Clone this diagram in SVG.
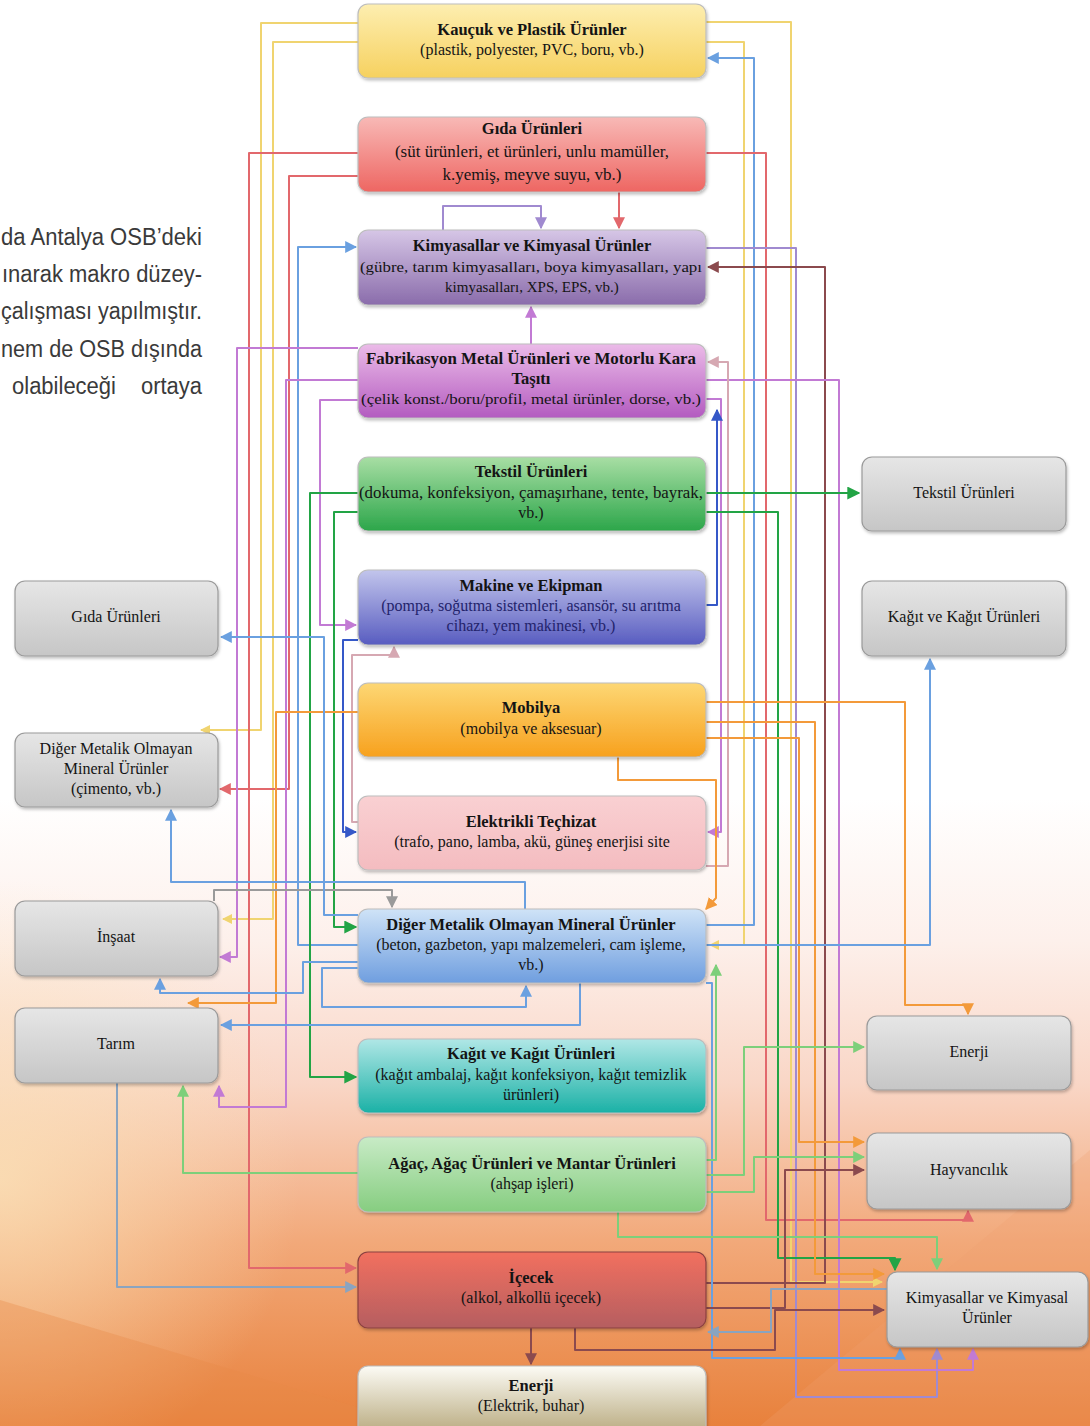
<svg xmlns="http://www.w3.org/2000/svg" width="1090" height="1426" viewBox="0 0 1090 1426">
<defs>
<linearGradient id="bg" x1="0" y1="0" x2="0" y2="1">
<stop offset="0" stop-color="#ffffff"/><stop offset="0.56" stop-color="#ffffff"/><stop offset="0.66" stop-color="#fdf0eb"/><stop offset="0.76" stop-color="#f9d6c6"/><stop offset="0.87" stop-color="#f2a97a"/><stop offset="1" stop-color="#e8813c"/>
</linearGradient>
<radialGradient id="bg2" cx="0" cy="1180" r="300" gradientUnits="userSpaceOnUse">
<stop offset="0" stop-color="#fbe2b8" stop-opacity="0.8"/><stop offset="1" stop-color="#fbe2b8" stop-opacity="0"/>
</radialGradient>
<linearGradient id="gY" x1="0" y1="0" x2="0" y2="1"><stop offset="0" stop-color="#fdeeb0"/><stop offset="1" stop-color="#f6d15f"/></linearGradient>
<linearGradient id="gR" x1="0" y1="0" x2="0" y2="1"><stop offset="0" stop-color="#f8b9b6"/><stop offset="1" stop-color="#ee6662"/></linearGradient>
<linearGradient id="gP" x1="0" y1="0" x2="0" y2="1"><stop offset="0" stop-color="#d6c6e6"/><stop offset="1" stop-color="#8a6cab"/></linearGradient>
<linearGradient id="gM" x1="0" y1="0" x2="0" y2="1"><stop offset="0" stop-color="#ebbbe8"/><stop offset="1" stop-color="#b35bc0"/></linearGradient>
<linearGradient id="gG" x1="0" y1="0" x2="0" y2="1"><stop offset="0" stop-color="#a8dea4"/><stop offset="1" stop-color="#2ca64a"/></linearGradient>
<linearGradient id="gB" x1="0" y1="0" x2="0" y2="1"><stop offset="0" stop-color="#c2c5ec"/><stop offset="1" stop-color="#585cc0"/></linearGradient>
<linearGradient id="gO" x1="0" y1="0" x2="0" y2="1"><stop offset="0" stop-color="#fdd774"/><stop offset="1" stop-color="#f7a11e"/></linearGradient>
<linearGradient id="gPk" x1="0" y1="0" x2="0" y2="1"><stop offset="0" stop-color="#f9d0d2"/><stop offset="1" stop-color="#f4bcc0"/></linearGradient>
<linearGradient id="gLB" x1="0" y1="0" x2="0" y2="1"><stop offset="0" stop-color="#cfe3f7"/><stop offset="1" stop-color="#6f9edf"/></linearGradient>
<linearGradient id="gT" x1="0" y1="0" x2="0" y2="1"><stop offset="0" stop-color="#b0e7e6"/><stop offset="1" stop-color="#1bb1a6"/></linearGradient>
<linearGradient id="gLG" x1="0" y1="0" x2="0" y2="1"><stop offset="0" stop-color="#c8ebc6"/><stop offset="1" stop-color="#86cd80"/></linearGradient>
<linearGradient id="gDR" x1="0" y1="0" x2="0" y2="1"><stop offset="0" stop-color="#f2705f"/><stop offset="1" stop-color="#b55e60"/></linearGradient>
<linearGradient id="gBe" x1="0" y1="0" x2="0" y2="1"><stop offset="0" stop-color="#fcfbf5"/><stop offset="1" stop-color="#b0a070"/></linearGradient>
<linearGradient id="gGr" x1="0" y1="0" x2="0" y2="1"><stop offset="0" stop-color="#e6e6e6"/><stop offset="1" stop-color="#c6c6c6"/></linearGradient>
<filter id="sh" x="-5%" y="-10%" width="110%" height="130%"><feDropShadow dx="1" dy="2" stdDeviation="1.5" flood-color="#000" flood-opacity="0.25"/></filter>
<marker id="aY" viewBox="0 0 10 10" refX="9" refY="5" markerWidth="10" markerHeight="10" markerUnits="userSpaceOnUse" orient="auto"><path d="M0,0 L10,5 L0,10 z" fill="#f0d470"/></marker>
<marker id="aR" viewBox="0 0 10 10" refX="9" refY="5" markerWidth="12" markerHeight="12" markerUnits="userSpaceOnUse" orient="auto"><path d="M0,0 L10,5 L0,10 z" fill="#e2686c"/></marker>
<marker id="aP" viewBox="0 0 10 10" refX="9" refY="5" markerWidth="12" markerHeight="12" markerUnits="userSpaceOnUse" orient="auto"><path d="M0,0 L10,5 L0,10 z" fill="#c27ad4"/></marker>
<marker id="aPL" viewBox="0 0 10 10" refX="9" refY="5" markerWidth="12" markerHeight="12" markerUnits="userSpaceOnUse" orient="auto"><path d="M0,0 L10,5 L0,10 z" fill="#a08ad0"/></marker>
<marker id="aB" viewBox="0 0 10 10" refX="9" refY="5" markerWidth="12" markerHeight="12" markerUnits="userSpaceOnUse" orient="auto"><path d="M0,0 L10,5 L0,10 z" fill="#6aa0e0"/></marker>
<marker id="aBD" viewBox="0 0 10 10" refX="9" refY="5" markerWidth="12" markerHeight="12" markerUnits="userSpaceOnUse" orient="auto"><path d="M0,0 L10,5 L0,10 z" fill="#3558c8"/></marker>
<marker id="aG" viewBox="0 0 10 10" refX="9" refY="5" markerWidth="13" markerHeight="13" markerUnits="userSpaceOnUse" orient="auto"><path d="M0,0 L10,5 L0,10 z" fill="#22a445"/></marker>
<marker id="aGL" viewBox="0 0 10 10" refX="9" refY="5" markerWidth="12" markerHeight="12" markerUnits="userSpaceOnUse" orient="auto"><path d="M0,0 L10,5 L0,10 z" fill="#7dcf7a"/></marker>
<marker id="aO" viewBox="0 0 10 10" refX="9" refY="5" markerWidth="12" markerHeight="12" markerUnits="userSpaceOnUse" orient="auto"><path d="M0,0 L10,5 L0,10 z" fill="#f39a3a"/></marker>
<marker id="aBR" viewBox="0 0 10 10" refX="9" refY="5" markerWidth="12" markerHeight="12" markerUnits="userSpaceOnUse" orient="auto"><path d="M0,0 L10,5 L0,10 z" fill="#8b4a4e"/></marker>
<marker id="aGR" viewBox="0 0 10 10" refX="9" refY="5" markerWidth="12" markerHeight="12" markerUnits="userSpaceOnUse" orient="auto"><path d="M0,0 L10,5 L0,10 z" fill="#9a9a9a"/></marker>
<marker id="aM" viewBox="0 0 10 10" refX="9" refY="5" markerWidth="12" markerHeight="12" markerUnits="userSpaceOnUse" orient="auto"><path d="M0,0 L10,5 L0,10 z" fill="#d6a8b2"/></marker>
<marker id="aBG" viewBox="0 0 10 10" refX="9" refY="5" markerWidth="12" markerHeight="12" markerUnits="userSpaceOnUse" orient="auto"><path d="M0,0 L10,5 L0,10 z" fill="#8aa4c0"/></marker>
</defs>
<style>
.n rect{stroke-width:1.2;filter:url(#sh)}
.c rect{stroke:#bdbdbd}
.gr rect{fill:url(#gGr);stroke:#9a9a9a}
text{font-family:"Liberation Serif","Times New Roman",serif;fill:#141414;text-anchor:middle}
.t{font-weight:bold;font-size:16.5px}
.s{font-size:16px}
.s15{font-size:15px}
.g{font-size:16px}
.para{font-family:"Liberation Sans",Arial,sans-serif;font-size:23px;fill:#3a3a3a;text-anchor:start}
.cn path{fill:none;stroke-width:2;stroke-linejoin:round}
.Y{stroke:#f0d470}.R{stroke:#e2686c}.P{stroke:#c27ad4}.PL{stroke:#a08ad0}.B{stroke:#6aa0e0}.BD{stroke:#3558c8}.G{stroke:#22a445}.GL{stroke:#7dcf7a}.O{stroke:#f39a3a}.BR{stroke:#8b4a4e}.GR{stroke:#9a9a9a}.M{stroke:#d6a8b2}.BG{stroke:#8aa4c0}
</style>
<rect x="0" y="0" width="1090" height="1426" fill="url(#bg)"/>
<rect x="0" y="850" width="1090" height="576" fill="url(#bg2)"/>
<path d="M0,1300 L420,1426 L0,1426 z" fill="#e98a48" opacity="0.35"/>
<path d="M760,1426 L1090,1150 L1090,1426 z" fill="#f0a070" opacity="0.25"/>

<g id="para">
<text class="para" x="1" y="245" textLength="201" lengthAdjust="spacingAndGlyphs">da Antalya OSB’deki</text>
<text class="para" x="2" y="282" textLength="200" lengthAdjust="spacingAndGlyphs">ınarak makro düzey-</text>
<text class="para" x="1" y="319" textLength="201" lengthAdjust="spacingAndGlyphs">çalışması  yapılmıştır.</text>
<text class="para" x="1" y="357" textLength="201" lengthAdjust="spacingAndGlyphs">nem de OSB dışında</text>
<text class="para" x="12" y="394" textLength="104" lengthAdjust="spacingAndGlyphs">olabileceği</text>
<text class="para" x="141" y="394" textLength="61" lengthAdjust="spacingAndGlyphs">ortaya</text>
</g>

<g id="connectors" class="cn">
<path class="Y" d="M358,23 H261 V730 H201" marker-end="url(#aY)"/>
<path class="Y" d="M358,42 H273 V919 H223" marker-end="url(#aY)"/>
<path class="Y" d="M706,42 H744 V945 H710" marker-end="url(#aY)"/>
<path class="Y" d="M706,22 H791 V1282 H882" marker-end="url(#aY)"/>
<path class="B" d="M706,925 H754 V58 H708" marker-end="url(#aB)"/>
<path class="R" d="M358,153 H249 V1268 H356" marker-end="url(#aR)"/>
<path class="R" d="M358,176 H289 V789 H220" marker-end="url(#aR)"/>
<path class="R" d="M619,192 V228" marker-end="url(#aR)"/>
<path class="R" d="M706,153 H766 V1220 H968 V1211" marker-end="url(#aR)"/>
<path class="PL" d="M443,230 V206 H541 V228" marker-end="url(#aPL)"/>
<path class="PL" d="M706,248 H796 V1397 H937 V1349" marker-end="url(#aPL)"/>
<path class="BR" d="M706,1283 H825 V267 H708" marker-end="url(#aBR)"/>
<path class="B" d="M358,945 H298 V247 H356" marker-end="url(#aB)"/>
<path class="P" d="M531,344 V307" marker-end="url(#aP)"/>
<path class="P" d="M358,348 H237 V957 H220" marker-end="url(#aP)"/>
<path class="P" d="M358,380 H286 V1107 H219 V1086" marker-end="url(#aP)"/>
<path class="P" d="M358,400 H320 V625 H356" marker-end="url(#aP)"/>
<path class="P" d="M706,399 H721 V832 H708" marker-end="url(#aP)"/>
<path class="P" d="M706,380 H839 V1370 H973 V1349" marker-end="url(#aP)"/>
<path class="M" d="M706,866 H728 V362 H708" marker-end="url(#aM)"/>
<path class="BD" d="M706,605 H717 V410" marker-end="url(#aBD)"/>
<path class="BD" d="M358,640 H343 V832 H356" marker-end="url(#aBD)"/>
<path class="M" d="M358,822 H352 V655 H394 V647" marker-end="url(#aM)"/>
<path class="G" d="M706,493 H859" stroke-width="2.5" marker-end="url(#aG)"/>
<path class="G" d="M358,493 H310 V1077 H356" stroke-width="2.5" marker-end="url(#aG)"/>
<path class="G" d="M358,512 H334 V927 H356" stroke-width="2.5" marker-end="url(#aG)"/>
<path class="G" d="M706,512 H778 V1258 H895 V1270" stroke-width="3" marker-end="url(#aG)"/>
<path class="O" d="M358,712 H276 V1003 H188" stroke-width="2.5" marker-end="url(#aO)"/>
<path class="O" d="M618,757 V780 H716 V898 L706,909" stroke-width="2.5" marker-end="url(#aO)"/>
<path class="O" d="M706,702 H905 V1005 H968 V1014" stroke-width="2.5" marker-end="url(#aO)"/>
<path class="O" d="M706,738 H799 V1142 H864" stroke-width="2.5" marker-end="url(#aO)"/>
<path class="O" d="M706,722 H815 V1274 H884" stroke-width="2.5" marker-end="url(#aO)"/>
<path class="B" d="M525,909 V882 H171 V810" marker-end="url(#aB)"/>
<path class="GR" d="M214,901 V890 H392 V907" stroke-width="2.5" marker-end="url(#aGR)"/>
<path class="B" d="M358,962 H303 V993 H160 V979" marker-end="url(#aB)"/>
<path class="B" d="M358,968 H322 V1007 H526 V986" marker-end="url(#aB)"/>
<path class="B" d="M580,983 V1025 H221" marker-end="url(#aB)"/>
<path class="B" d="M358,915 H324 V637 H221" marker-end="url(#aB)"/>
<path class="B" d="M706,945 H930 V659" marker-end="url(#aB)"/>
<path class="B" d="M706,983 H712 V1358 H900 V1349" marker-end="url(#aB)"/>
<path class="BG" d="M117,1083 V1287 H356" marker-end="url(#aBG)"/>
<path class="GL" d="M358,1173 H183 V1086" marker-end="url(#aGL)"/>
<path class="GL" d="M706,1160 H716 V965" marker-end="url(#aGL)"/>
<path class="GL" d="M706,1175 H744 V1047 H864" marker-end="url(#aGL)"/>
<path class="GL" d="M706,1192 H754 V1157 H864" marker-end="url(#aGL)"/>
<path class="GL" d="M618,1212 V1237 H937 V1269" marker-end="url(#aGL)"/>
<path class="BR" d="M706,1308 H785 V1170 H864" stroke-width="2.5" marker-end="url(#aBR)"/>
<path class="BR" d="M575,1328 V1350 H775 V1310 H884" stroke-width="2.5" marker-end="url(#aBR)"/>
<path class="BG" d="M887,1289 H771 V1332 H708" marker-end="url(#aBG)"/>
<path class="BR" d="M531,1328 V1364" marker-end="url(#aBR)"/>
</g>

<g id="n-kaucuk" class="n c"><rect x="358" y="4" width="348" height="74" rx="10" fill="url(#gY)"/>
<text class="t" x="532" y="35">Kauçuk ve Plastik Ürünler</text><text class="s" x="532" y="55">(plastik, polyester, PVC, boru, vb.)</text></g>
<g id="n-gida" class="n c"><rect x="358" y="117" width="348" height="75" rx="10" fill="url(#gR)"/>
<text class="t" x="532" y="134">Gıda Ürünleri</text><text class="s" x="532" y="157" style="font-size:17px">(süt ürünleri, et ürünleri, unlu mamüller,</text><text class="s" x="532" y="180" style="font-size:17px">k.yemiş, meyve suyu, vb.)</text></g>
<g id="n-kimya" class="n c"><rect x="358" y="230" width="348" height="75" rx="10" fill="url(#gP)"/>
<text class="t" x="532" y="251">Kimyasallar ve Kimyasal Ürünler</text><text class="s15" x="531" y="272" textLength="342" lengthAdjust="spacingAndGlyphs">(gübre, tarım kimyasalları, boya kimyasalları, yapı</text><text class="s15" x="532" y="292">kimyasalları, XPS, EPS, vb.)</text></g>
<g id="n-fabrikasyon" class="n c"><rect x="358" y="344" width="348" height="74" rx="10" fill="url(#gM)"/>
<text class="t" x="531" y="364" textLength="330" lengthAdjust="spacingAndGlyphs">Fabrikasyon Metal Ürünleri ve Motorlu Kara</text><text class="t" x="531" y="384">Taşıtı</text><text class="s15" x="531" y="404" textLength="340" lengthAdjust="spacingAndGlyphs">(çelik konst./boru/profil, metal ürünler, dorse, vb.)</text></g>
<g id="n-tekstil" class="n c"><rect x="358" y="457" width="348" height="74" rx="10" fill="url(#gG)"/>
<text class="t" x="531" y="477">Tekstil Ürünleri</text><text class="s" x="531" y="498" textLength="344" lengthAdjust="spacingAndGlyphs">(dokuma, konfeksiyon, çamaşırhane, tente, bayrak,</text><text class="s" x="531" y="518">vb.)</text></g>
<g id="n-makine" class="n c"><rect x="358" y="570" width="348" height="75" rx="10" fill="url(#gB)"/>
<text class="t" x="531" y="591">Makine ve Ekipman</text><text class="s" x="531" y="611" style="fill:#23236b">(pompa, soğutma sistemleri, asansör, su arıtma</text><text class="s" x="531" y="631" style="fill:#23236b">cihazı, yem makinesi, vb.)</text></g>
<g id="n-mobilya" class="n c"><rect x="358" y="683" width="348" height="74" rx="10" fill="url(#gO)"/>
<text class="t" x="531" y="713">Mobilya</text><text class="s" x="531" y="734">(mobilya ve aksesuar)</text></g>
<g id="n-elektrikli" class="n c"><rect x="358" y="796" width="348" height="74" rx="10" fill="url(#gPk)"/>
<text class="t" x="531" y="827">Elektrikli Teçhizat</text><text class="s" x="532" y="847">(trafo, pano, lamba, akü, güneş enerjisi site</text></g>
<g id="n-diger" class="n c"><rect x="358" y="909" width="348" height="74" rx="10" fill="url(#gLB)"/>
<text class="t" x="531" y="930">Diğer Metalik Olmayan Mineral Ürünler</text><text class="s" x="531" y="950">(beton, gazbeton, yapı malzemeleri, cam işleme,</text><text class="s" x="531" y="970">vb.)</text></g>
<g id="n-kagit" class="n c"><rect x="358" y="1039" width="348" height="74" rx="10" fill="url(#gT)"/>
<text class="t" x="531" y="1059">Kağıt ve Kağıt Ürünleri</text><text class="s" x="531" y="1080">(kağıt ambalaj, kağıt konfeksiyon, kağıt temizlik</text><text class="s" x="531" y="1100">ürünleri)</text></g>
<g id="n-agac" class="n c"><rect x="358" y="1137" width="348" height="75" rx="10" fill="url(#gLG)"/>
<text class="t" x="532" y="1169">Ağaç, Ağaç Ürünleri ve Mantar Ürünleri</text><text class="s" x="532" y="1189">(ahşap işleri)</text></g>
<g id="n-icecek" class="n c"><rect x="358" y="1252" width="348" height="76" rx="10" fill="url(#gDR)" style="stroke:#8a4040"/>
<text class="t" x="531" y="1283">İçecek</text><text class="s" x="531" y="1303">(alkol, alkollü içecek)</text></g>
<g id="n-enerji-c" class="n c"><rect x="358" y="1366" width="348" height="76" rx="10" fill="url(#gBe)"/>
<text class="t" x="531" y="1391">Enerji</text><text class="s" x="531" y="1411">(Elektrik, buhar)</text></g>

<g id="n-l-gida" class="n gr"><rect x="15" y="581" width="203" height="75" rx="10"/><text class="g" x="116" y="622">Gıda Ürünleri</text></g>
<g id="n-l-diger" class="n gr"><rect x="15" y="733" width="203" height="74" rx="10"/><text class="g" x="116" y="754">Diğer Metalik Olmayan</text><text class="g" x="116" y="774">Mineral Ürünler</text><text class="g" x="116" y="794">(çimento, vb.)</text></g>
<g id="n-l-insaat" class="n gr"><rect x="15" y="901" width="203" height="75" rx="10"/><text class="g" x="116" y="942">İnşaat</text></g>
<g id="n-l-tarim" class="n gr"><rect x="15" y="1008" width="203" height="75" rx="10"/><text class="g" x="116" y="1049">Tarım</text></g>
<g id="n-r-tekstil" class="n gr"><rect x="862" y="457" width="204" height="74" rx="10"/><text class="g" x="964" y="498">Tekstil Ürünleri</text></g>
<g id="n-r-kagit" class="n gr"><rect x="862" y="581" width="204" height="75" rx="10"/><text class="g" x="964" y="622">Kağıt ve Kağıt Ürünleri</text></g>
<g id="n-r-enerji" class="n gr"><rect x="867" y="1016" width="204" height="74" rx="10"/><text class="g" x="969" y="1057">Enerji</text></g>
<g id="n-r-hayvan" class="n gr"><rect x="867" y="1133" width="204" height="76" rx="10"/><text class="g" x="969" y="1175">Hayvancılık</text></g>
<g id="n-r-kimya" class="n gr"><rect x="887" y="1272" width="201" height="75" rx="10"/><text class="g" x="987" y="1323" dy="-20">Kimyasallar ve Kimyasal</text><text class="g" x="987" y="1323">Ürünler</text></g>
</svg>
